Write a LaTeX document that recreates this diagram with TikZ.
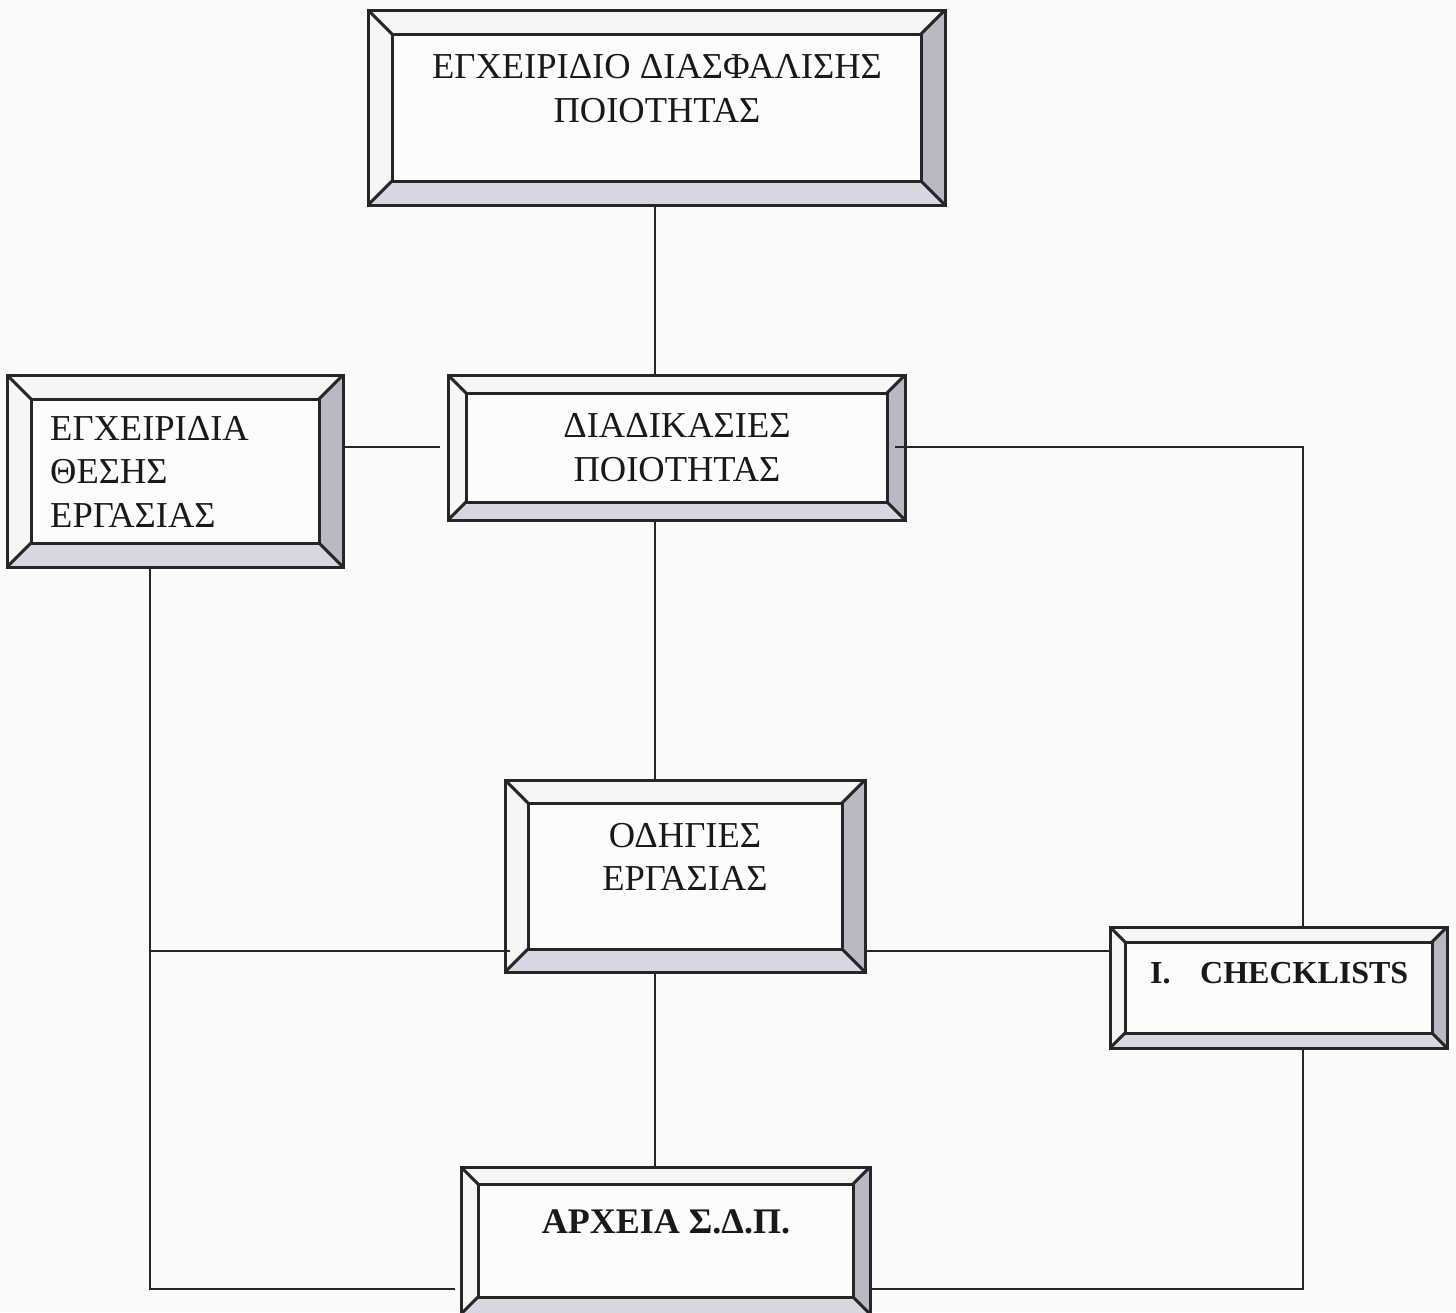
\documentclass[tikz,border=0pt]{standalone}
\usepackage{fontspec}
\setmainfont{Liberation Serif}
\definecolor{bgc}{HTML}{F9FAFA}
\definecolor{bevR}{HTML}{B9B9C4}
\definecolor{bevB}{HTML}{D6D7E0}
\definecolor{bevT}{HTML}{F5F6F6}
\definecolor{inner}{HTML}{FBFCFC}
\tikzset{
  boxnode/.style={inner sep=0pt, outer sep=0pt, fill=inner},
  bevline/.style={line width=3pt, line join=miter, black!85},
  conn/.style={line width=2.6pt, black!85},
  txt/.style={inner sep=0pt, font=\fontsize{36.5}{43.5}\selectfont, text=black!90},
  btxt/.style={inner sep=0pt, font=\fontsize{32}{38}\selectfont\bfseries, text=black!90}
}
\newcommand\bevelbox[6]{%
  \pgfmathsetmacro\bxa{#2+#6}\pgfmathsetmacro\bya{#3+#6}%
  \pgfmathsetmacro\bxb{#4-#6}\pgfmathsetmacro\byb{#5-#6}%
  \pgfmathsetmacro\bcx{(#2+#4)/2}\pgfmathsetmacro\bcy{(#3+#5)/2}%
  \pgfmathsetmacro\bw{#4-#2}\pgfmathsetmacro\bh{#5-#3}%
  \node[boxnode, minimum width=\bw pt, minimum height=\bh pt] (#1) at (\bcx,\bcy) {};
  \fill[bevT] (#2,#3) -- (#4,#3) -- (\bxb,\bya) -- (\bxa,\bya) -- cycle;
  \fill[bevT] (#2,#3) -- (\bxa,\bya) -- (\bxa,\byb) -- (#2,#5) -- cycle;
  \fill[bevR] (#4,#3) -- (#4,#5) -- (\bxb,\byb) -- (\bxb,\bya) -- cycle;
  \fill[bevB] (#2,#5) -- (#4,#5) -- (\bxb,\byb) -- (\bxa,\byb) -- cycle;
  \draw[bevline] (\bxa,\bya) rectangle (\bxb,\byb);
  \draw[bevline] (#2,#3) -- (\bxa,\bya) (#4,#3) -- (\bxb,\bya)
                 (#4,#5) -- (\bxb,\byb) (#2,#5) -- (\bxa,\byb);
  \draw[bevline] (#1.north west) rectangle (#1.south east);
}
\begin{document}
\begin{tikzpicture}[x=1pt,y=-1pt]
\useasboundingbox (0,0) rectangle (1456,1312);
\clip (0,0) rectangle (1456,1312);
\fill[bgc] (0,0) rectangle (1456,1312);

% helper coordinates for connector routes
\coordinate (vx) at (655,0);
\coordinate (lx) at (150,0);
\coordinate (rx) at (1303,0);
\coordinate (yb) at (0,447);
\coordinate (ym) at (0,951);
\coordinate (yl) at (0,1289);

\bevelbox{A}{368}{10}{945}{205}{24}
\bevelbox{B}{448}{375}{905}{520}{18}
\bevelbox{C}{7}{375}{343}{567}{24}
\bevelbox{D}{505}{780}{865}{972}{23}
\bevelbox{E}{1110}{927}{1447}{1048}{15}
\bevelbox{F}{461}{1167}{870}{1314}{17}

\draw[conn] (A.south -| vx) -- (B.north -| vx);
\draw[conn] (C.east |- yb) -- ([xshift=-8pt]B.west |- yb);
\draw[conn] ([xshift=-10pt]B.east |- yb) -| (E.north -| rx);
\draw[conn] (B.south -| vx) -- (D.north -| vx);
\draw[conn] (C.south -| lx) |- ([xshift=-6pt]F.west |- yl);
\draw[conn] (lx |- ym) -- ([xshift=5pt]D.west |- ym);
\draw[conn] (D.east |- ym) -- (E.west |- ym);
\draw[conn] (D.south -| vx) -- (F.north -| vx);
\draw[conn] (E.south -| rx) |- (F.east |- yl);

% texts
\node[txt, anchor=base] (A1) at (657,78) {ΕΓΧΕΙΡΙΔΙΟ ΔΙΑΣΦΑΛΙΣΗΣ};
\node[txt, anchor=base] (A2) at (657,122) {ΠΟΙΟΤΗΤΑΣ};
\node[txt, anchor=base] (B1) at (677,437) {ΔΙΑΔΙΚΑΣΙΕΣ};
\node[txt, anchor=base] (B2) at (677,481) {ΠΟΙΟΤΗΤΑΣ};
\node[txt, anchor=base west] (C1) at (50,440) {ΕΓΧΕΙΡΙΔΙΑ};
\node[txt, anchor=base west] (C2) at (50,483) {ΘΕΣΗΣ};
\node[txt, anchor=base west] (C3) at (50,527) {ΕΡΓΑΣΙΑΣ};
\node[txt, anchor=base] (D1) at (685,847) {ΟΔΗΓΙΕΣ};
\node[txt, anchor=base] (D2) at (685,890) {ΕΡΓΑΣΙΑΣ};
\node[btxt, anchor=base west] (E1) at (1150,983) {I.};
\node[btxt, anchor=base west] (E2) at (1200,983) {CHECKLISTS};
\node[btxt, font=\fontsize{36}{42}\selectfont\bfseries, anchor=base] (F1) at (666,1233) {ΑΡΧΕΙΑ Σ.Δ.Π.};
\end{tikzpicture}
\end{document}
